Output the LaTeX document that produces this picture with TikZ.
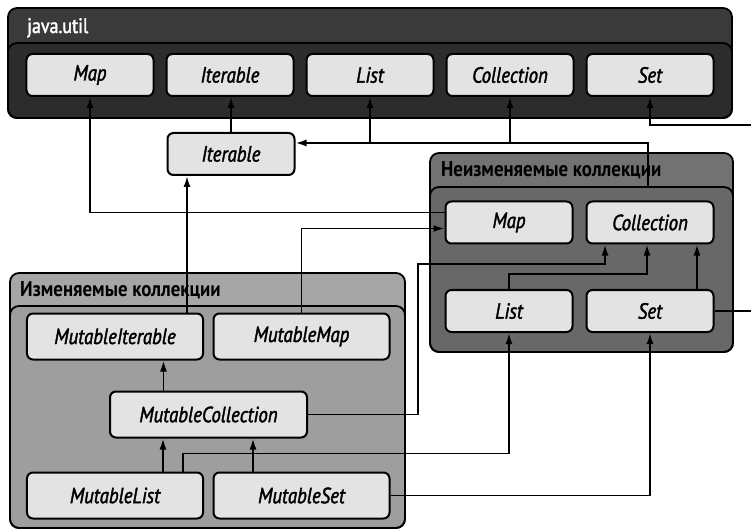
\documentclass[tikz,border=0pt]{standalone}
\usepackage{fontspec}
\setmainfont{PT Sans}[FakeStretch=0.88]
\newfontfamily\ifacefont{PT Sans}[FakeStretch=0.86,FakeBold=1.8]
\usetikzlibrary{arrows,arrows.meta,positioning}
\definecolor{utiltitle}{HTML}{3A3A3A}
\definecolor{utilbody}{HTML}{2C2C2C}
\definecolor{rotitle}{HTML}{727272}
\definecolor{robody}{HTML}{686868}
\definecolor{muttitle}{HTML}{A6A6A6}
\definecolor{mutbody}{HTML}{9E9E9E}
\definecolor{ifacefill}{HTML}{E3E3E3}

\begin{document}
\begin{tikzpicture}[>={Latex[length=11bp,width=7bp]},x=1bp,y=-1bp,
    iface/.style={draw,line width=2bp,rounded corners=6bp,fill=ifacefill,
      minimum width=127bp,minimum height=42bp,inner sep=0pt,
      font=\fontsize{22}{24}\ifacefont\itshape},
    mutbox/.style={iface,minimum width=176bp,minimum height=46bp},
    pkgline/.style={draw,line width=1.8bp,rounded corners=9bp},
    pkgtitle/.style={anchor=base west,inner sep=0pt,font=\fontsize{21.5}{24}\selectfont\bfseries},
    conn/.style={line width=1.8bp}]
  \useasboundingbox (0,0) rectangle (751,530);
  %%
  % Package: java.util
  \fill[utiltitle,rounded corners=9bp] (8,8) rectangle (732,118);
  \draw[pkgline,fill=utilbody] (8,118) rectangle (732,43);
  \draw[pkgline] (8,8) rectangle (732,118);
  \node[pkgtitle,text=white,font=\fontsize{21}{24}\ifacefont] (utiltitle) at (27,33) {java.util};
  % Package: read-only
  \fill[rotitle,rounded corners=9bp] (430,153) rectangle (733,352);
  \draw[pkgline,fill=robody] (430,352) rectangle (733,187);
  \draw[pkgline] (430,153) rectangle (733,352);
  \node[pkgtitle] (rotitle) at (441,177) {Неизменяемые коллекции};
  % Package: mutable
  \fill[muttitle,rounded corners=9bp] (10,273) rectangle (405,528);
  \draw[pkgline,fill=mutbody] (10,528) rectangle (405,306);
  \draw[pkgline] (10,273) rectangle (405,528);
  \node[pkgtitle] (muttitle) at (20,297) {Изменяемые коллекции};
  %%
  % Node: java.util interfaces
  \node[iface] (jmap) at (90,75) {Map};
  \node[iface] (jiter) at (230,75) {Iterable};
  \node[iface] (jlist) at (370,75) {List};
  \node[iface] (jcoll) at (510,75) {Collection};
  \node[iface] (jset) at (650,75) {Set};
  % Node: Iterable
  \node[iface] (kiter) at (231,154) {Iterable};
  % Node: read-only interfaces
  \node[iface] (romap) at (509,222.5) {Map};
  \node[iface] (rocoll) at (650,222.5) {Collection};
  \node[iface] (rolist) at (509,311) {List};
  \node[iface] (roset) at (650,311) {Set};
  % Node: mutable interfaces
  \node[mutbox] (mutiter) at (115,336.5) {MutableIterable};
  \node[mutbox] (mutmap) at (301.5,336.5) {MutableMap};
  \node[mutbox,minimum width=197bp] (mutcoll) at (208.5,414.5) {MutableCollection};
  \node[mutbox] (mutlist) at (115,495.5) {MutableList};
  \node[mutbox] (mutset) at (301.5,495.5) {MutableSet};
  %%
  \coordinate (rotop) at (648,187);
  \coordinate (bus) at (648,143);
  \coordinate (setin) at (751,125);
  \coordinate (setout) at (751,311);
  \coordinate (mcbend) at (418,264);
  % Edge: Iterable -> java Iterable
  \draw[conn,->] (kiter.north) -- (kiter.north |- jiter.south);
  % Edge: Collection -> Iterable, java List, java Collection
  \draw[conn,->] (rotop) -- (bus) -- (bus -| kiter.east);
  \draw[conn,->] (bus -| jlist.south) -- (jlist.south);
  \draw[conn,->] (bus -| jcoll.south) -- (jcoll.south);
  % Edge: Set -> java Set
  \draw[conn,->] (setin) -| (jset.south);
  \draw[conn] (roset.east) -- (setout);
  % Edge: Map -> java Map
  \draw[conn,->] ([yshift=10bp]romap.west) -| (jmap.south);
  % Edge: MutableMap -> Map
  \draw[conn,->] (mutmap.north) |- ([yshift=-6bp]romap.west);
  % Edge: MutableIterable -> Iterable
  \draw[conn,->] ([xshift=72bp]mutiter.north) -- ([xshift=72bp]mutiter.north |- kiter.south);
  % Edge: MutableCollection -> MutableIterable
  \draw[conn,->] ([xshift=-45bp]mutcoll.north) -- ([xshift=-45bp]mutcoll.north |- mutiter.south);
  % Edge: MutableList -> MutableCollection
  \draw[conn,->] ([xshift=48bp]mutlist.north) -- ([xshift=48bp]mutlist.north |- mutcoll.south);
  % Edge: MutableSet -> MutableCollection
  \draw[conn,->] ([xshift=-48.5bp]mutset.north) -- ([xshift=-48.5bp]mutset.north |- mutcoll.south);
  % Edge: MutableCollection -> Collection
  \draw[conn,->] (mutcoll.east) -| (mcbend) -| ([xshift=-45bp]rocoll.south);
  % Edge: MutableList -> List
  \draw[conn,->] ([xshift=68bp]mutlist.north) -- ++(0,-18) -| (rolist.south);
  % Edge: MutableSet -> Set
  \draw[conn,->] (mutset.east) -| (roset.south);
  % Edge: List -> Collection
  \draw[conn,->] (rolist.north) -- ++(0,-15) -| ([xshift=-3bp]rocoll.south);
  % Edge: Set -> Collection
  \draw[conn,->] ([xshift=47bp]roset.north) -- ([xshift=47bp]roset.north |- rocoll.south);
  %
\end{tikzpicture}
\end{document}
